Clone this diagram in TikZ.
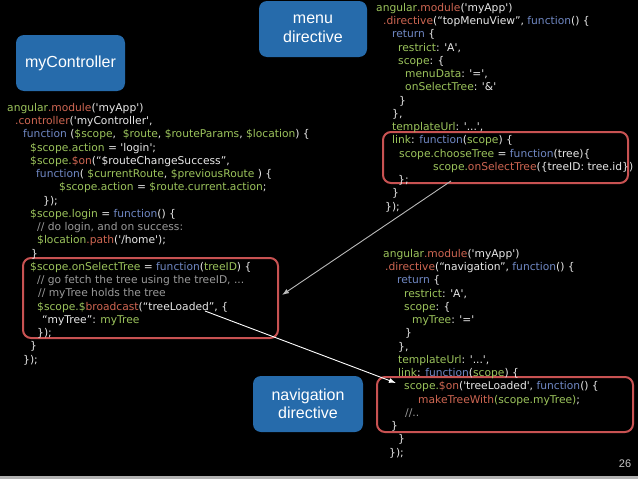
\documentclass[tikz,border=0pt]{standalone}
\usepackage{fontspec}
\usetikzlibrary{arrows.meta}
\newfontfamily\codefont{DejaVu Sans}
\newfontfamily\tagfont{Liberation Sans}
\definecolor{tagblue}{HTML}{266BAB}
\definecolor{hlred}{HTML}{C85252}
\definecolor{codegreen}{HTML}{9CC45C}
\definecolor{codered}{HTML}{CF6652}
\definecolor{codeblue}{HTML}{7088C4}
\definecolor{codegray}{HTML}{9A9A9A}
\definecolor{codewhite}{HTML}{E8E8E8}
\newcommand{\jsid}[1]{\textcolor{codegreen}{#1}}
\newcommand{\jsfn}[1]{\textcolor{codered}{#1}}
\newcommand{\jskw}[1]{\textcolor{codeblue}{#1}}
\newcommand{\jscm}[1]{\textcolor{codegray}{#1}}

\begin{document}
\begin{tikzpicture}[x=1pt,y=-1pt,
    codeblock/.style={anchor=north west,inner sep=0pt,align=left,text=codewhite,
        font=\codefont\fontsize{10.7}{13.25}\selectfont},
    tagbox/.style={fill=tagblue,rounded corners=8pt,text=white,align=center,
        minimum width=109pt,minimum height=56pt,font=\tagfont\fontsize{16}{18.5}\selectfont},
    hlbox/.style={draw=hlred,line width=2pt,rounded corners=8pt,inner sep=0pt},
    link/.style={-{Latex[length=7pt,width=5pt]},line width=0.9pt}]
        \fill[black](0,0)rectangle(638,479);
        \useasboundingbox(0,0)rectangle(638,479);
        \fill[gray!60](0,476)rectangle(638,479);

        % labels
        \node[tagbox](ctrlTag)at(70.5,63){myController};
        \node[tagbox,minimum width=108pt](menuTag)at(313,29){menu\\directive};
        \node[tagbox,minimum width=110pt](navTag)at(308,404){navigation\\directive};

        % highlighted parts
        \node[hlbox,minimum width=255pt,minimum height=80pt](selBox)at(150.5,298){};
        \node[hlbox,minimum width=245pt,minimum height=51pt](chooseBox)at(505.5,157.5){};
        \node[hlbox,minimum width=256pt,minimum height=55pt](onBox)at(505,404.5){};

        % controller
        \node[codeblock](ctrlCode)at(7,103){%
            \jsid{angular}\jsfn{.module}('myApp')\\
            \hspace*{8pt}\jsfn{.controller}('myController',\\
            \hspace*{16pt}\jskw{function} (\jsid{\$scope},\ \ \jsid{\$route}, \jsid{\$routeParams}, \jsid{\$location}) \{\\
            \hspace*{23pt}\jsid{\$scope.action} = 'login';\\
            \hspace*{23pt}\jsid{\$scope.}\jsfn{\$on}(“\$routeChangeSuccess”,\\
            \hspace*{29pt}\jskw{function}( \jsid{\$currentRoute}, \jsid{\$previousRoute} ) \{\\
            \hspace*{52pt}\jsid{\$scope.action} = \jsid{\$route.current.action};\\
            \hspace*{36pt}\});\\
            \hspace*{23pt}\jsid{\$scope.login} = \jskw{function}() \{\\
            \hspace*{30pt}\jscm{// do login, and on success:}\\
            \hspace*{30pt}\jsid{\$location}\jsfn{.path}('/home');\\
            \hspace*{24pt}\}\\
            \hspace*{23pt}\jsid{\$scope.onSelectTree} = \jskw{function}(\jsid{treeID}) \{\\
            \hspace*{30pt}\jscm{// go fetch the tree using the treeID, ...}\\
            \hspace*{31pt}\jscm{// myTree holds the tree}\\
            \hspace*{30pt}\jsid{\$scope.\$}\jsfn{broadcast}(“treeLoaded”, \{\\
            \hspace*{35pt}“myTree”: \jsid{myTree}\\
            \hspace*{30pt}\});\\
            \hspace*{23pt}\}\\
            \hspace*{16pt}\});};

        % menu directive
        \node[codeblock](menuCode)at(376,3){%
            \jsid{angular}\jsfn{.module}('myApp')\\
            \hspace*{7pt}\jsfn{.directive}(“topMenuView”, \jskw{function}() \{\\
            \hspace*{16pt}\jskw{return} \{\\
            \hspace*{22pt}\jsid{restrict}: 'A',\\
            \hspace*{22pt}\jsid{scope}: \{\\
            \hspace*{29pt}\jsid{menuData}: '=',\\
            \hspace*{29pt}\jsid{onSelectTree}: '\&'\\
            \hspace*{23pt}\}\\
            \hspace*{16pt}\},\\
            \hspace*{16pt}\jsid{templateUrl}: '...',\\
            \hspace*{16pt}\jsid{link}: \jskw{function}(\jsid{scope}) \{\\
            \hspace*{23pt}\jsid{scope.chooseTree} = \jskw{function}(tree)\{\\
            \hspace*{57pt}\jsid{scope.}\jsfn{onSelectTree}(\{treeID: tree.id\})\\
            \hspace*{22pt}\};\\
            \hspace*{16pt}\}\\
            \hspace*{9pt}\});};

        % navigation directive
        \node[codeblock](navCode)at(383,249){%
            \jsid{angular}\jsfn{.module}('myApp')\\
            \hspace*{2pt}\jsfn{.directive}(“navigation”, \jskw{function}() \{\\
            \hspace*{14pt}\jskw{return} \{\\
            \hspace*{21pt}\jsid{restrict}: 'A',\\
            \hspace*{21pt}\jsid{scope}: \{\\
            \hspace*{29pt}\jsid{myTree}: '='\\
            \hspace*{22pt}\}\\
            \hspace*{15pt}\},\\
            \hspace*{15pt}\jsid{templateUrl}: '...',\\
            \hspace*{15pt}\jsid{link}: \jskw{function}(\jsid{scope}) \{\\
            \hspace*{21pt}\jsid{scope.}\jsfn{\$on}('treeLoaded', \jskw{function}() \{\\
            \hspace*{35pt}\jsfn{makeTreeWith}\jsid{(scope.myTree)};\\
            \hspace*{22pt}\jscm{//..}\\
            \hspace*{8pt}\}\\
            \hspace*{15pt}\}\\
            \hspace*{6pt}\});};

        \node[text=gray!45,font=\tagfont\fontsize{11}{13}\selectfont](pageNum)at(625,464){26};

        % arrows
        \coordinate(castPt)at(205,311);
        \coordinate(onPt)at(396,383);
        \draw[link,gray!55](chooseBox.south west)++(69,-3)--([xshift=3pt,yshift=3pt]selBox.east);
        \draw[link,white](castPt)--(onPt);
\end{tikzpicture}
\end{document}
